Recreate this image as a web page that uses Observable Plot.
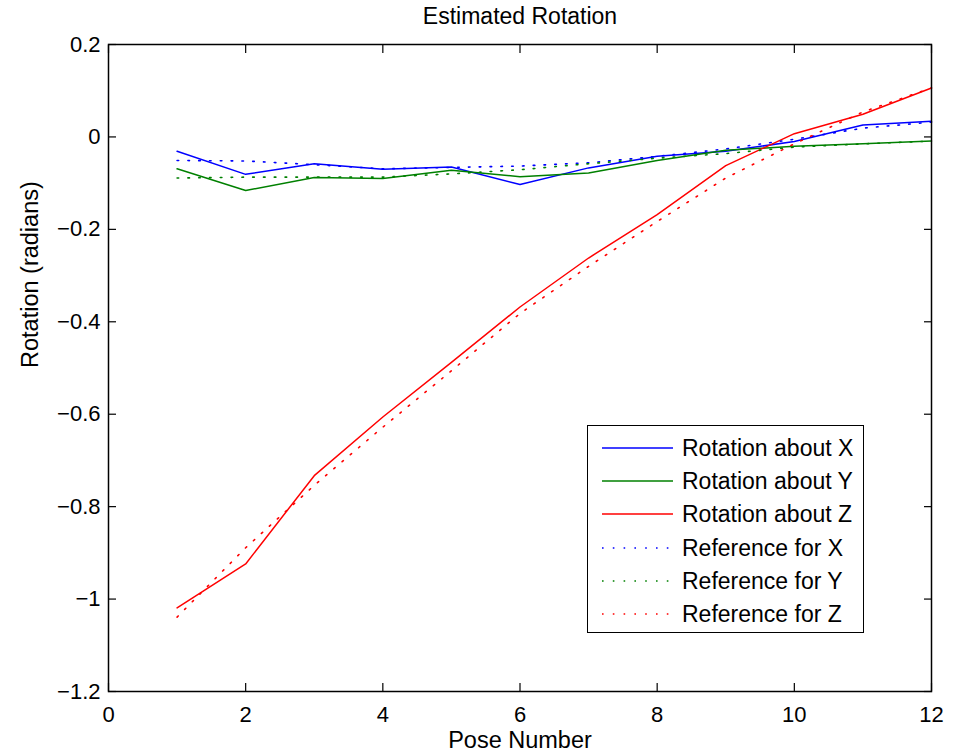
<!DOCTYPE html>
<html>
<head>
<meta charset="utf-8">
<script src="https://cdn.jsdelivr.net/npm/d3@7"></script>
<script src="https://cdn.jsdelivr.net/npm/@observablehq/plot@0.6"></script>
<style>
  body { margin: 0; background: white; }
  #wrap { position: relative; width: 961px; height: 754px; font-family: "Liberation Sans", Arial, Helvetica, sans-serif; }
  #legend { position: absolute; left: 587px; top: 425px; width: 275px; height: 206px; border: 1.5px solid #000; background: white; }
  #legend .row { position: absolute; left: 0; height: 30px; display: flex; align-items: center; }
  #legend .row span { position: absolute; left: 94px; font-size: 23px; white-space: nowrap; line-height: 30px; color: #000; }
  #legend svg { position: absolute; left: 14px; top: 0; }
</style>
</head>
<body>
<div id="wrap"></div>
<script>
const poses = [1, 2, 3, 4, 5, 6, 7, 8, 9, 10, 11, 12];
const rotX = [-0.031, -0.081, -0.058, -0.070, -0.065, -0.103, -0.067, -0.042, -0.031, -0.010, 0.026, 0.034];
const rotY = [-0.069, -0.116, -0.088, -0.090, -0.072, -0.086, -0.078, -0.051, -0.029, -0.020, -0.015, -0.009];
const rotZ = [-1.019, -0.924, -0.733, -0.606, -0.488, -0.368, -0.262, -0.168, -0.062, 0.007, 0.049, 0.106];
const refX = [-0.051, -0.052, -0.060, -0.069, -0.066, -0.063, -0.056, -0.042, -0.026, -0.005, 0.019, 0.032];
const refY = [-0.089, -0.087, -0.087, -0.087, -0.080, -0.071, -0.058, -0.046, -0.036, -0.022, -0.015, -0.009];
const refZ = [-1.039, -0.889, -0.754, -0.628, -0.506, -0.382, -0.280, -0.183, -0.089, -0.015, 0.054, 0.106];

const seriesNames = ["Rotation about X", "Rotation about Y", "Rotation about Z", "Reference for X", "Reference for Y", "Reference for Z"];
const seriesValues = [rotX, rotY, rotZ, refX, refY, refZ];
const seriesColors = ["#0000ff", "#008000", "#ff0000", "#0000ff", "#008000", "#ff0000"];
const seriesDotted = [false, false, false, true, true, true];

const xTicks = [0, 2, 4, 6, 8, 10, 12];
const yTicks = [-1.2, -1, -0.8, -0.6, -0.4, -0.2, 0, 0.2];

const titleText = "Estimated Rotation";
const xLabel = "Pose Number";
const yLabel = "Rotation (radians)";

const fmt = d3.format("~g");

const lineMarks = seriesNames.map((name, i) =>
  Plot.line(poses.map((p, j) => ({pose: p, value: seriesValues[i][j]})), {
    x: "pose", y: "value",
    stroke: seriesColors[i],
    strokeWidth: seriesDotted[i] ? 1.6 : 1.5,
    strokeDasharray: seriesDotted[i] ? "1.6 9.2" : null
  })
);

const chart = Plot.plot({
  width: 961,
  height: 754,
  marginTop: 44,
  marginLeft: 108,
  marginRight: 30,
  marginBottom: 63,
  style: {fontFamily: "Liberation Sans, Arial, Helvetica, sans-serif", fontSize: "22px", background: "white", color: "black"},
  x: {domain: [0, 12]},
  y: {domain: [-1.2, 0.2]},
  marks: [
    ...lineMarks,
    Plot.frame({stroke: "black", strokeWidth: 1.5}),
    Plot.axisX(xTicks, {anchor: "bottom", tickSize: -8, tickPadding: 23, tickFormat: fmt, label: null, fontSize: 22, strokeWidth: 1.2}),
    Plot.axisX(xTicks, {anchor: "top", tickSize: -8, tickFormat: () => "", label: null, strokeWidth: 1.2}),
    Plot.axisY(yTicks, {anchor: "left", tickSize: -8, tickPadding: 16, tickFormat: fmt, label: null, fontSize: 22, strokeWidth: 1.2}),
    Plot.axisY(yTicks, {anchor: "right", tickSize: -8, tickFormat: () => "", label: null, strokeWidth: 1.2}),
    Plot.text([titleText], {frameAnchor: "top", dy: -27.8, text: d => d, fontSize: 23, lineAnchor: "middle", fill: "black"}),
    Plot.text([xLabel], {frameAnchor: "bottom", dy: 49, text: d => d, fontSize: 23.5, lineAnchor: "middle", fill: "black"}),
    Plot.text([yLabel], {frameAnchor: "left", dx: -78, text: d => d, fontSize: 23.5, rotate: -90, lineAnchor: "middle", fill: "black"})
  ]
});

const wrap = document.getElementById("wrap");
wrap.appendChild(chart);

// Legend overlay
const legend = document.createElement("div");
legend.id = "legend";
const rowCenters = [22, 55, 88, 122, 155, 188];
seriesNames.forEach((name, i) => {
  const row = document.createElement("div");
  row.className = "row";
  row.style.top = (rowCenters[i] - 15) + "px";
  row.style.width = "275px";
  const svg = d3.create("svg").attr("width", 72).attr("height", 30);
  svg.append("line")
    .attr("x1", 0).attr("x2", 71).attr("y1", 15).attr("y2", 15)
    .attr("stroke", seriesColors[i])
    .attr("stroke-width", 1.5)
    .attr("stroke-dasharray", seriesDotted[i] ? "1.6 9.2" : null);
  row.appendChild(svg.node());
  const span = document.createElement("span");
  span.textContent = name;
  row.appendChild(span);
  legend.appendChild(row);
});
wrap.appendChild(legend);
</script>
</body>
</html>
